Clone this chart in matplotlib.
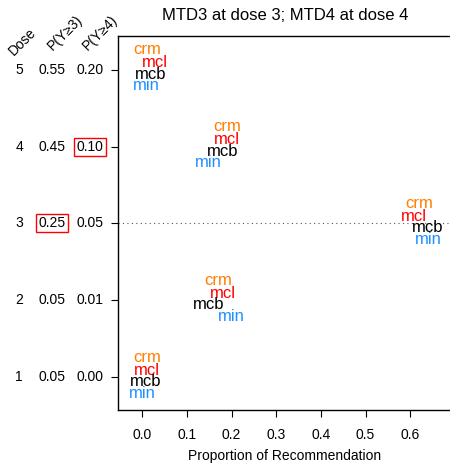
import matplotlib
matplotlib.use("Agg")
import matplotlib.pyplot as plt
import matplotlib.transforms as mtrans

plt.rcParams['font.family'] = ['Liberation Sans', 'DejaVu Sans']

# dados
doses = [1, 2, 3, 4, 5]
p_y3 = ["0.05", "0.05", "0.25", "0.45", "0.55"]
p_y4 = ["0.00", "0.01", "0.05", "0.10", "0.20"]
crm_prop = [0.011, 0.170, 0.620, 0.190, 0.011]
mcl_prop = [0.011, 0.181, 0.609, 0.190, 0.029]
mcb_prop = [0.009, 0.148, 0.640, 0.180, 0.018]
min_prop = [0.000, 0.199, 0.640, 0.148, 0.009]
x_ticks = [0.0, 0.1, 0.2, 0.3, 0.4, 0.5, 0.6]
mtd3, mtd4 = 3, 4

methods = [
    ("crm", crm_prop, "#FF7F00", 0.26),
    ("mcl", mcl_prop, "#FF0000", 0.09),
    ("mcb", mcb_prop, "black", -0.06),
    ("min", min_prop, "#1E90FF", -0.21),
]

fig = plt.figure(figsize=(4.5, 4.63), dpi=100)
ax = fig.add_axes([118 / 450, 1 - 410 / 463, 1 - 118 / 450 + 0.005, (410 - 36) / 463])
ax.set_xlim(-0.054, 0.694)
ax.set_ylim(0.57, 5.44)

for name, vals, col, dy in methods:
    for d, p in zip(doses, vals):
        ax.text(p, d + dy, name, color=col, fontsize=12, ha='center', va='center')

ax.axhline(mtd3, color='#555555', linestyle=(0, (1, 3)), linewidth=0.8)

ax.spines['right'].set_visible(False)
for s in ['left', 'top', 'bottom']:
    ax.spines[s].set_linewidth(1.0)
ax.set_xticks(x_ticks)
ax.set_xticklabels([f"{v:.1f}" for v in x_ticks], fontsize=10)
ax.set_yticks(doses)
ax.set_yticklabels([])
ax.tick_params(axis='both', direction='out', length=5, width=0.8, pad=8)

# tabela à esquerda
tr = mtrans.blended_transform_factory(fig.transFigure, ax.transData)
for d, a, b in zip(doses, p_y3, p_y4):
    ax.text(19 / 450, d, str(d), transform=tr, ha='center', va='center', fontsize=10, clip_on=False)
    box3 = dict(boxstyle='square,pad=0.15', fc='none', ec='red', lw=1) if d == mtd3 else None
    box4 = dict(boxstyle='square,pad=0.15', fc='none', ec='red', lw=1) if d == mtd4 else None
    ax.text(52 / 450, d, a, transform=tr, ha='center', va='center', fontsize=10, bbox=box3, clip_on=False)
    ax.text(90 / 450, d, b, transform=tr, ha='center', va='center', fontsize=10, bbox=box4, clip_on=False)

fig.text(22 / 450, 1 - 42 / 463, "Dose", rotation=45, ha='center', va='center', fontsize=10)
fig.text(65 / 450, 1 - 33 / 463, "P(Y\u22653)", rotation=45, ha='center', va='center', fontsize=10)
fig.text(100 / 450, 1 - 33 / 463, "P(Y\u22654)", rotation=45, ha='center', va='center', fontsize=10)

fig.text(285 / 450, 1 - 15 / 463, "MTD3 at dose 3; MTD4 at dose 4", ha='center', va='center', fontsize=12)
fig.text(285 / 450, 1 - 456 / 463, "Proportion of Recommendation", ha='center', va='center', fontsize=10)

fig.savefig("out.png", dpi=100)
